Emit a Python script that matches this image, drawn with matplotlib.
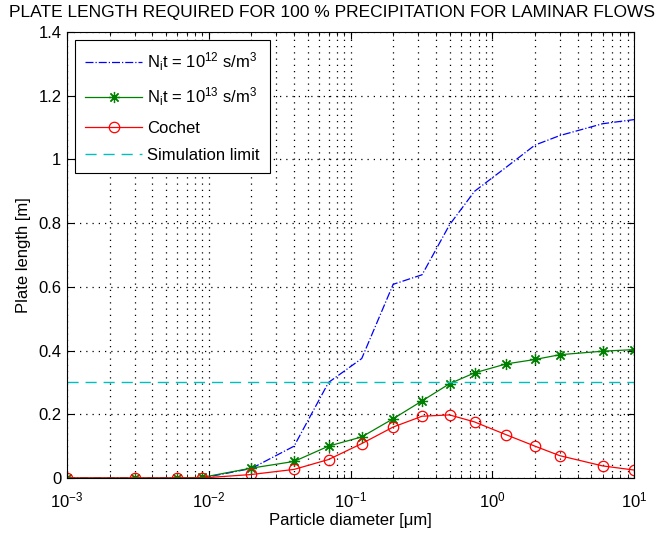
import matplotlib
matplotlib.use("Agg")
import matplotlib.pyplot as plt
from matplotlib.ticker import LogLocator, NullFormatter

plt.rcParams['font.family'] = ['Liberation Sans', 'DejaVu Sans']
plt.rcParams['mathtext.fontset'] = 'custom'
plt.rcParams['mathtext.rm'] = 'Liberation Sans'
plt.rcParams['mathtext.it'] = 'Liberation Sans'
plt.rcParams['mathtext.default'] = 'regular'

# particle diameters [um]
diameter = [0.001, 0.003, 0.006, 0.009, 0.02, 0.04, 0.07, 0.12, 0.2, 0.32,
            0.5, 0.75, 1.25, 2, 3, 6, 10]
# plate length [m]
len_nit12 = [0, 0, 0, 0, 0.03, 0.10, 0.30, 0.375, 0.608, 0.638,
             0.795, 0.90, 0.975, 1.045, 1.075, 1.112, 1.125]
len_nit13 = [0, 0, 0, 0.002, 0.031, 0.052, 0.100, 0.129, 0.186, 0.242,
             0.296, 0.330, 0.358, 0.372, 0.387, 0.398, 0.403]
len_cochet = [0, 0, 0, 0, 0.011, 0.027, 0.058, 0.108, 0.160, 0.194,
              0.198, 0.176, 0.136, 0.100, 0.070, 0.038, 0.025]
sim_limit = 0.3

fs = 12

fig = plt.figure(figsize=(6.63, 5.34), dpi=100)
ax = fig.add_axes([67 / 663, 56 / 534, 567 / 663, 446 / 534])

ax.plot(diameter, len_nit12, color="#0000ff", linestyle="-.", linewidth=0.9,
        label=r"N$_\mathrm{i}$t = 10$^{12}$ s/m$^{3}$")
ax.plot(diameter, len_nit13, color="#008000", linestyle="-", linewidth=0.9,
        marker=(8, 2, 0), markersize=8, markeredgewidth=0.9,
        label=r"N$_\mathrm{i}$t = 10$^{13}$ s/m$^{3}$")
ax.plot(diameter, len_cochet, color="#ff0000", linestyle="-", linewidth=0.9,
        marker="o", markersize=7.5, markerfacecolor="none", markeredgewidth=0.9,
        label="Cochet")
ax.plot(diameter, [sim_limit] * len(diameter), color="#00bfbf",
        linestyle=(0, (8, 5)), linewidth=1.0, label="Simulation limit")

ax.set_xscale("log")
ax.set_xlim(1e-3, 10)
ax.set_ylim(0, 1.4)
ax.set_yticks([0, 0.2, 0.4, 0.6, 0.8, 1, 1.2, 1.4])
ax.set_yticklabels(["0", "0.2", "0.4", "0.6", "0.8", "1", "1.2", "1.4"])
ax.xaxis.set_minor_locator(LogLocator(base=10, subs=range(2, 10)))
ax.xaxis.set_minor_formatter(NullFormatter())

# matlab style dotted grid
grid_style = (0, (1, 4))
ax.grid(True, which="major", color="black", linestyle=grid_style, linewidth=0.9)
ax.grid(True, which="minor", axis="x", color="black", linestyle=grid_style,
        linewidth=0.9)
ax.tick_params(which="both", direction="in", top=True, right=True,
               labelsize=fs, colors="black")
ax.tick_params(which="major", length=5)
ax.tick_params(which="minor", length=3)
ax.tick_params(axis="x", pad=9)
ax.tick_params(axis="y", pad=4)
for s in ax.spines.values():
    s.set_linewidth(0.8)

ax.set_xlabel("Particle diameter [\u03bcm]", fontsize=fs, labelpad=2)
ax.set_ylabel("Plate length [m]", fontsize=fs, labelpad=5)
fig.text(332 / 663, 1 - 13 / 534,
         "PLATE LENGTH REQUIRED FOR 100 % PRECIPITATION FOR LAMINAR FLOWS",
         ha="center", va="center", fontsize=12.5)

leg = ax.legend(loc="upper left", fontsize=fs, fancybox=False,
                edgecolor="black", framealpha=1, borderaxespad=0.5,
                handlelength=3.4, handletextpad=0.3, labelspacing=0.75,
                borderpad=0.6)
leg.get_frame().set_linewidth(0.8)

fig.savefig("out.png", dpi=100)
